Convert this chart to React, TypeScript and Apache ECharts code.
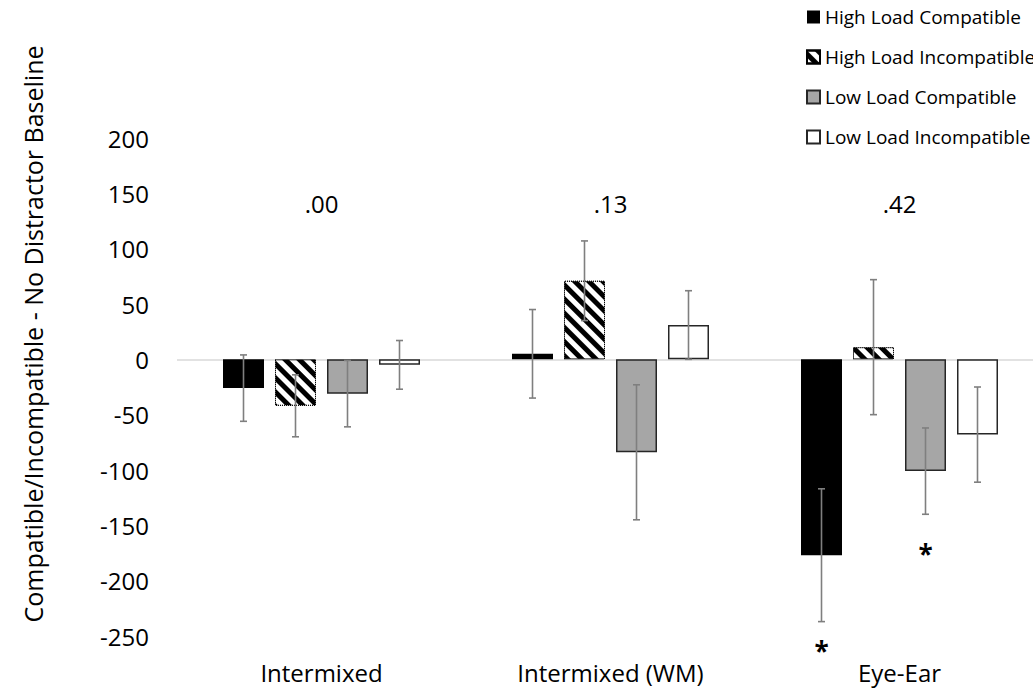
import React, { useEffect, useRef } from "react";
import * as echarts from "echarts";

const categories = ["Intermixed", "Intermixed (WM)", "Eye-Ear"];
const seriesNames = [
  "High Load Compatible",
  "High Load Incompatible",
  "Low Load Compatible",
  "Low Load Incompatible",
];
const highCompat = [-26, 5, -177];
const highIncompat = [-42, 71, 11];
const lowCompat = [-31, -84, -101];
const lowIncompat = [-5, 31, -68];
const highCompatErr = [30, 40, 60];
const highIncompatErr = [28, 36, 61];
const lowCompatErr = [30, 61, 39];
const lowIncompatErr = [22, 31, 43];
const effectSizes = [".00", ".13", ".42"];
const effectLabelValue = 141;
// [category index, series index, y value of the asterisk]
const sigMarks = [
  [2, 0, -264],
  [2, 2, -176],
];
const yTicks = { min: -250, max: 200, interval: 50 };

const FONT = "'Open Sans'";
const BAR_W = 41;
const BAR_GAP = 11;

export default function App() {
  const ref = useRef<HTMLDivElement>(null);
  useEffect(() => {
    if (!ref.current) return;
    const chart = echarts.init(ref.current, null, { renderer: "svg" });
    const values = [highCompat, highIncompat, lowCompat, lowIncompat];
    const errs = [highCompatErr, highIncompatErr, lowCompatErr, lowIncompatErr];
    const styles: any[] = [
      { color: "#000000" },
      {
        color: "#ffffff",
        borderColor: "#000000",
        borderWidth: 1,
        borderType: "dotted",
        decal: {
          symbol: "rect",
          symbolSize: 1,
          dashArrayX: [1, 0],
          dashArrayY: [5, 5],
          rotation: Math.PI / 4,
          color: "#000000",
        },
      },
      { color: "#a6a6a6", borderColor: "#262626", borderWidth: 1.5 },
      { color: "#ffffff", borderColor: "#262626", borderWidth: 1.5 },
    ];
    const pitch = BAR_W + BAR_GAP;
    const offsetOf = (s: number) => (s - 1.5) * pitch;

    const errData: number[][] = [];
    values.forEach((vals, s) =>
      vals.forEach((v, c) => errData.push([c, v, errs[s][c], s]))
    );

    const barSeries = values.map((vals, s) => ({
      type: "bar",
      name: seriesNames[s],
      data: vals,
      barWidth: BAR_W,
      barGap: (BAR_GAP / BAR_W) * 100 + "%",
      itemStyle: styles[s],
      z: 2,
      ...(s === 0
        ? {
            markLine: {
              silent: true,
              symbol: "none",
              label: { show: false },
              lineStyle: { color: "#d9d9d9", width: 1.5, type: "solid" },
              data: [{ yAxis: 0 }],
              z: 1,
            },
          }
        : {}),
    }));

    chart.setOption({
      animation: false,
      textStyle: { fontFamily: FONT },
      grid: { left: 177, width: 867, top: 138, height: 498, containLabel: false },
      legend: {
        orient: "vertical",
        left: 806,
        top: 6,
        padding: 0,
        itemWidth: 13,
        itemHeight: 13,
        itemGap: 18,
        icon: "rect",
        data: seriesNames,
        textStyle: { fontFamily: FONT, fontSize: 19, color: "#000", lineHeight: 22 },
      },
      xAxis: {
        type: "category",
        data: categories,
        axisLine: { show: false },
        axisTick: { show: false },
        axisLabel: { fontFamily: FONT, fontSize: 24, color: "#000", margin: 24 },
      },
      yAxis: {
        type: "value",
        min: yTicks.min,
        max: yTicks.max,
        interval: yTicks.interval,
        axisLine: { show: false },
        axisTick: { show: false },
        splitLine: { show: false },
        axisLabel: { fontFamily: FONT, fontSize: 24, color: "#000", margin: 28 },
      },
      graphic: [
        {
          type: "text",
          x: 33,
          y: 334,
          rotation: Math.PI / 2,
          style: {
            text: "Compatible/Incompatible - No Distractor Baseline",
            font: `25px ${FONT}`,
            fill: "#000",
            align: "center",
            verticalAlign: "middle",
          },
        },
      ],
      series: [
        ...barSeries,
        {
          type: "custom",
          name: "errors",
          data: errData,
          z: 5,
          renderItem: (params: any, api: any) => {
            const c = api.value(0);
            const v = api.value(1);
            const e = api.value(2);
            const s = api.value(3);
            const top = api.coord([c, v + e]);
            const bot = api.coord([c, v - e]);
            const x = top[0] + offsetOf(s);
            const cap = 3.5;
            const st = { stroke: "#7f7f7f", lineWidth: 1.6 };
            return {
              type: "group",
              children: [
                { type: "line", shape: { x1: x, y1: top[1], x2: x, y2: bot[1] }, style: st },
                { type: "line", shape: { x1: x - cap, y1: top[1], x2: x + cap, y2: top[1] }, style: st },
                { type: "line", shape: { x1: x - cap, y1: bot[1], x2: x + cap, y2: bot[1] }, style: st },
              ],
            };
          },
        },
        {
          type: "custom",
          name: "effects",
          data: effectSizes.map((t, c) => [c, effectLabelValue, t]),
          z: 5,
          renderItem: (params: any, api: any) => {
            const p = api.coord([api.value(0), api.value(1)]);
            return {
              type: "text",
              style: {
                text: effectSizes[params.dataIndex],
                x: p[0],
                y: p[1],
                align: "center",
                verticalAlign: "middle",
                font: `24px ${FONT}`,
                fill: "#000",
              },
            };
          },
        },
        {
          type: "custom",
          name: "sig",
          data: sigMarks,
          z: 5,
          renderItem: (params: any, api: any) => {
            const p = api.coord([api.value(0), api.value(2)]);
            const x = p[0] + offsetOf(api.value(1));
            return {
              type: "text",
              style: {
                text: "*",
                x,
                y: p[1],
                align: "center",
                verticalAlign: "middle",
                font: `bold 26px ${FONT}`,
                fill: "#000",
              },
            };
          },
        },
      ],
    });
    return () => chart.dispose();
  }, []);
  return (
    <div
      style={{
        position: "absolute",
        left: 0,
        top: 0,
        width: 1033,
        height: 692,
        overflow: "hidden",
        background: "#fff",
      }}
    >
      <div ref={ref} style={{ width: 1060, height: 692 }} />
    </div>
  );
}
